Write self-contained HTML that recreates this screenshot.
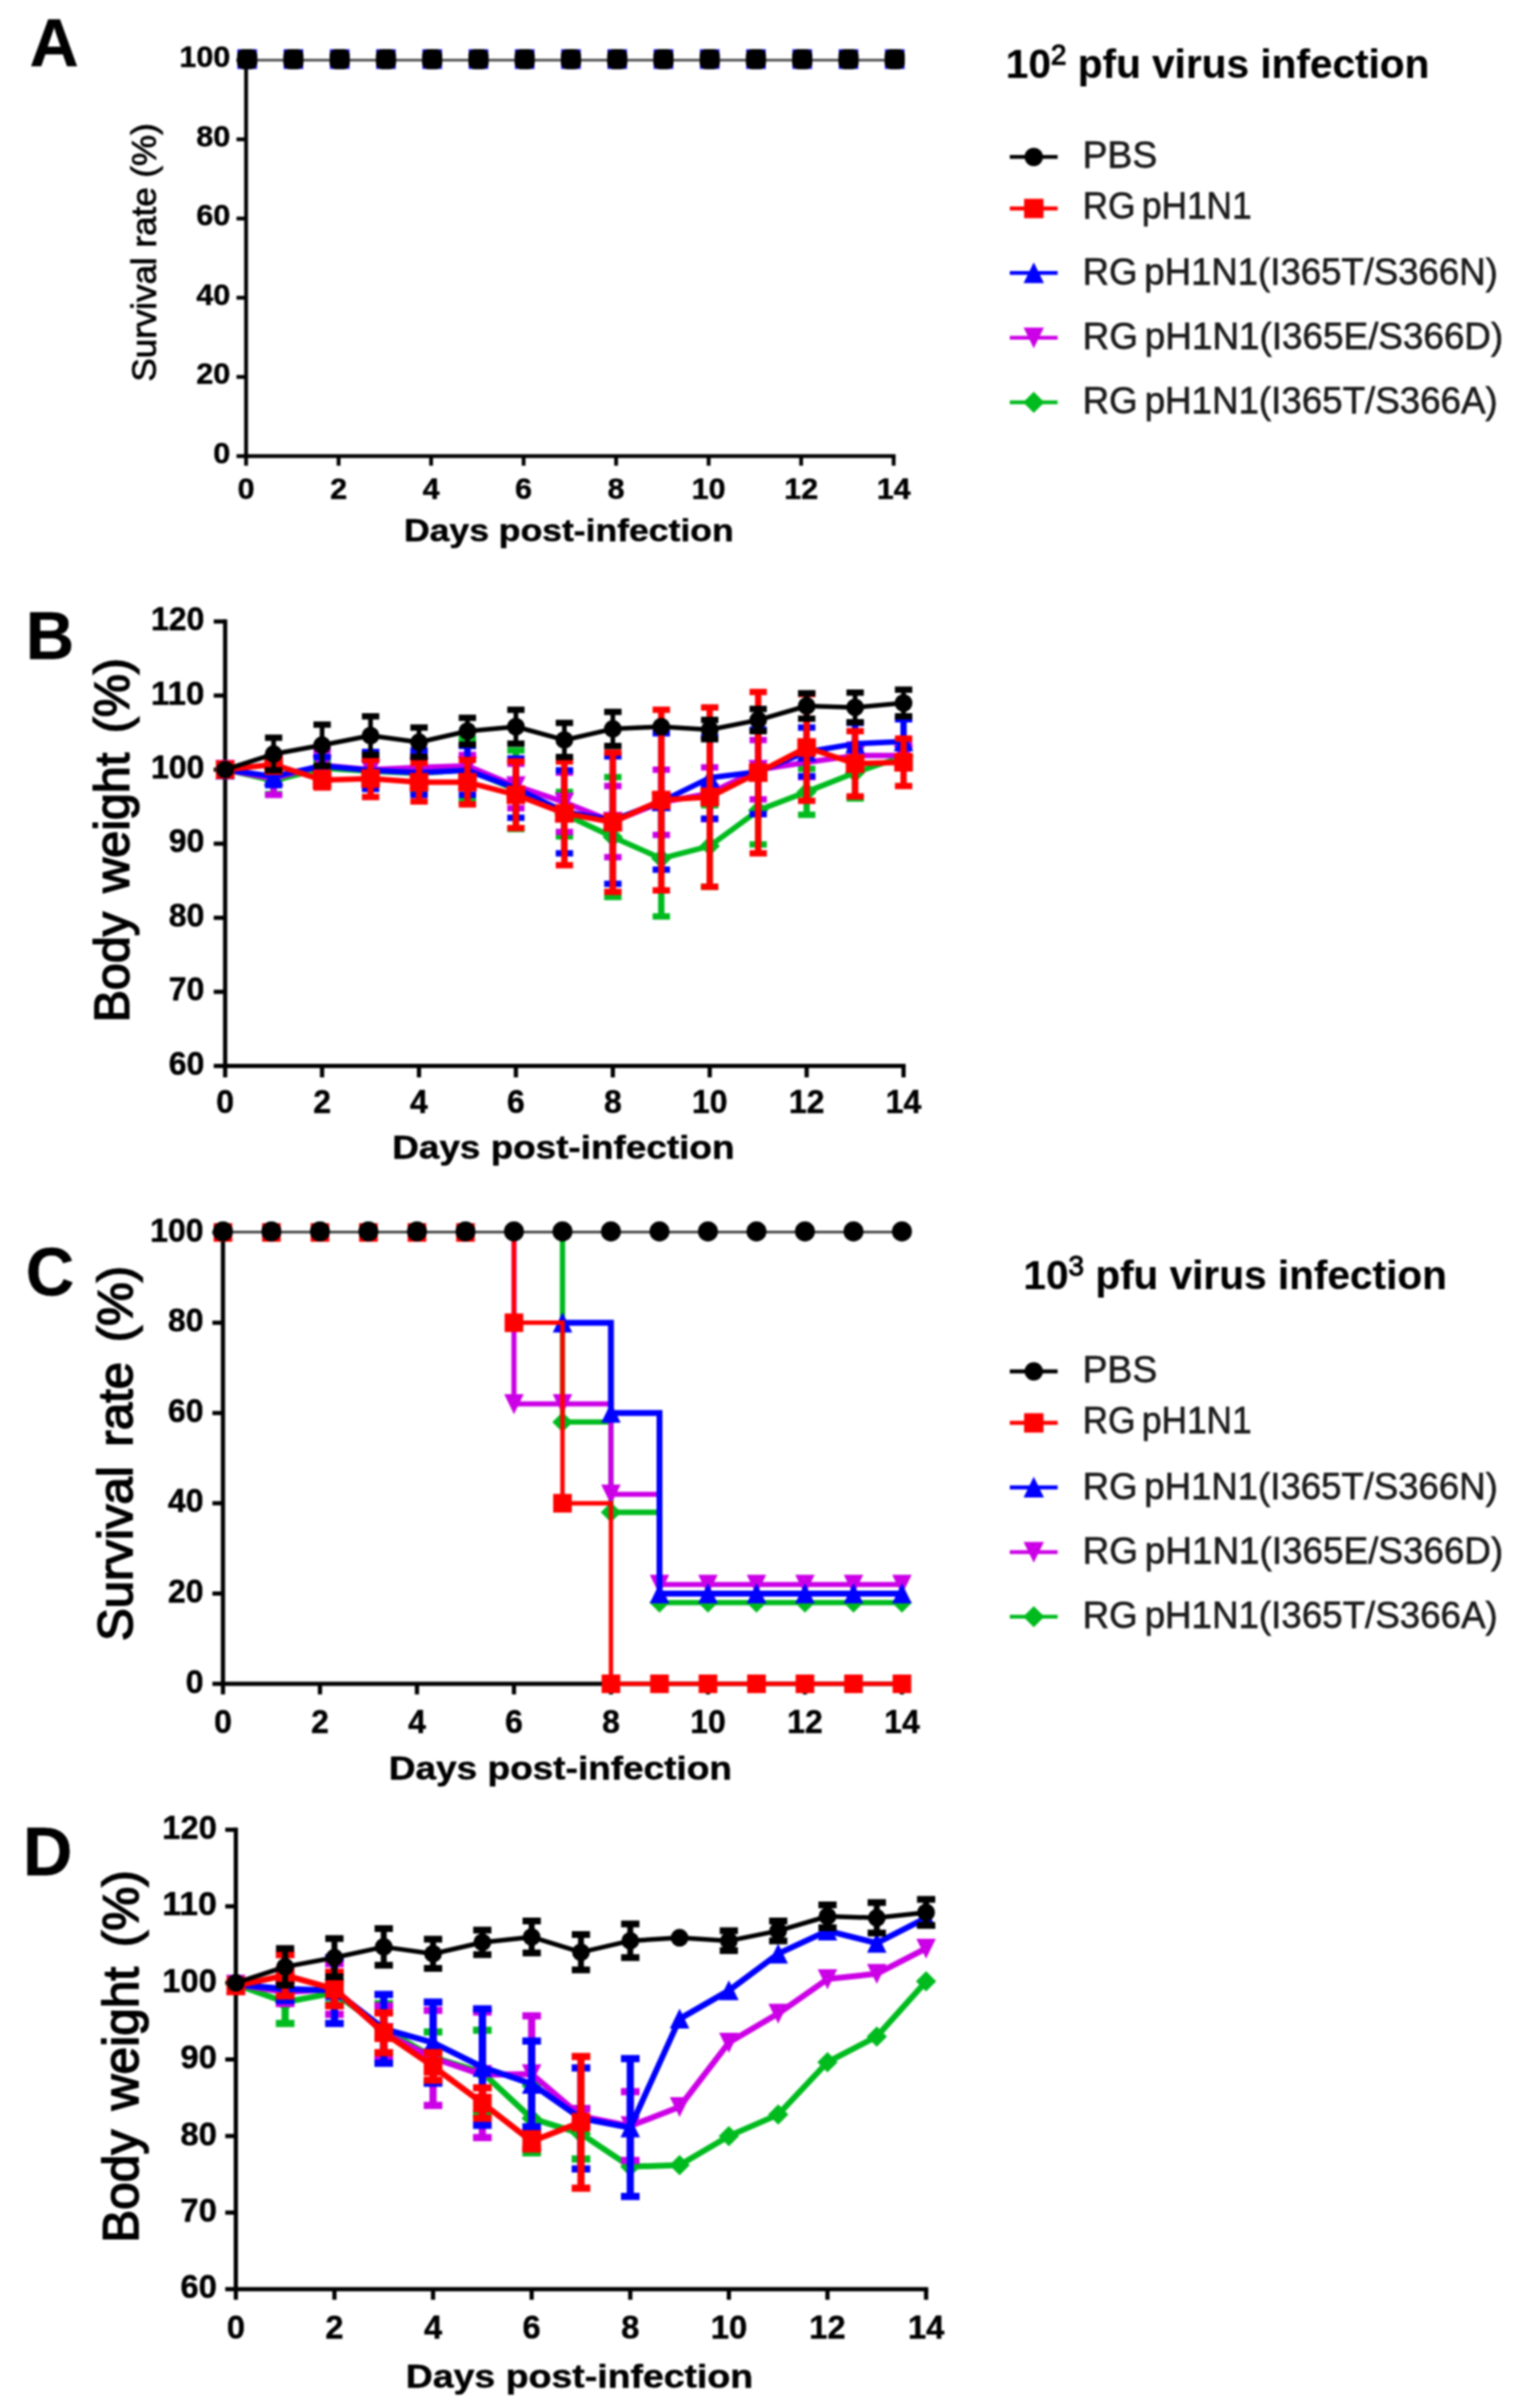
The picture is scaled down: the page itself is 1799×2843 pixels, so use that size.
<!DOCTYPE html>
<html lang="en"><head><meta charset="utf-8"><title>Figure</title>
<style>
html,body{margin:0;padding:0;background:#fff;}
body{width:1799px;height:2843px;overflow:hidden;}
svg{display:block;filter:blur(1.05px);}
</style></head><body>
<svg width="1799" height="2843" viewBox="0 0 1799 2843" font-family='"Liberation Sans", sans-serif'>
<rect width="1799" height="2843" fill="#fff"/>
<g id="fig">
<g id="panelA">
<text x="35.0" y="78.0" font-size="80" stroke="#000" stroke-width="0.5" font-weight="bold">A</text>
<path d="M290.5,68.8 V538.5 H1057.2" fill="none" stroke="#000" stroke-width="4.5" stroke-linejoin="miter"/>
<path d="M279.2,538.5 H290.5" stroke="#000" stroke-width="4.5"/>
<text x="271.8" y="546.9" font-size="34.5" stroke="#000" stroke-width="0.5" font-weight="bold" text-anchor="end" textLength="20.0" lengthAdjust="spacingAndGlyphs">0</text>
<path d="M279.2,445.0 H290.5" stroke="#000" stroke-width="4.5"/>
<text x="271.8" y="453.4" font-size="34.5" stroke="#000" stroke-width="0.5" font-weight="bold" text-anchor="end" textLength="40.0" lengthAdjust="spacingAndGlyphs">20</text>
<path d="M279.2,351.5 H290.5" stroke="#000" stroke-width="4.5"/>
<text x="271.8" y="359.9" font-size="34.5" stroke="#000" stroke-width="0.5" font-weight="bold" text-anchor="end" textLength="40.0" lengthAdjust="spacingAndGlyphs">40</text>
<path d="M279.2,258.0 H290.5" stroke="#000" stroke-width="4.5"/>
<text x="271.8" y="266.4" font-size="34.5" stroke="#000" stroke-width="0.5" font-weight="bold" text-anchor="end" textLength="40.0" lengthAdjust="spacingAndGlyphs">60</text>
<path d="M279.2,164.5 H290.5" stroke="#000" stroke-width="4.5"/>
<text x="271.8" y="172.9" font-size="34.5" stroke="#000" stroke-width="0.5" font-weight="bold" text-anchor="end" textLength="40.0" lengthAdjust="spacingAndGlyphs">80</text>
<path d="M279.2,71.0 H290.5" stroke="#000" stroke-width="4.5"/>
<text x="271.8" y="79.4" font-size="34.5" stroke="#000" stroke-width="0.5" font-weight="bold" text-anchor="end" textLength="60.0" lengthAdjust="spacingAndGlyphs">100</text>
<path d="M290.5,538.5 V549.8" stroke="#000" stroke-width="4.5"/>
<text x="290.5" y="588.5" font-size="34.5" stroke="#000" stroke-width="0.5" font-weight="bold" text-anchor="middle" textLength="20.0" lengthAdjust="spacingAndGlyphs">0</text>
<path d="M399.7,538.5 V549.8" stroke="#000" stroke-width="4.5"/>
<text x="399.7" y="588.5" font-size="34.5" stroke="#000" stroke-width="0.5" font-weight="bold" text-anchor="middle" textLength="20.0" lengthAdjust="spacingAndGlyphs">2</text>
<path d="M508.9,538.5 V549.8" stroke="#000" stroke-width="4.5"/>
<text x="508.9" y="588.5" font-size="34.5" stroke="#000" stroke-width="0.5" font-weight="bold" text-anchor="middle" textLength="20.0" lengthAdjust="spacingAndGlyphs">4</text>
<path d="M618.1,538.5 V549.8" stroke="#000" stroke-width="4.5"/>
<text x="618.1" y="588.5" font-size="34.5" stroke="#000" stroke-width="0.5" font-weight="bold" text-anchor="middle" textLength="20.0" lengthAdjust="spacingAndGlyphs">6</text>
<path d="M727.3,538.5 V549.8" stroke="#000" stroke-width="4.5"/>
<text x="727.3" y="588.5" font-size="34.5" stroke="#000" stroke-width="0.5" font-weight="bold" text-anchor="middle" textLength="20.0" lengthAdjust="spacingAndGlyphs">8</text>
<path d="M836.5,538.5 V549.8" stroke="#000" stroke-width="4.5"/>
<text x="836.5" y="588.5" font-size="34.5" stroke="#000" stroke-width="0.5" font-weight="bold" text-anchor="middle" textLength="40.0" lengthAdjust="spacingAndGlyphs">10</text>
<path d="M945.7,538.5 V549.8" stroke="#000" stroke-width="4.5"/>
<text x="945.7" y="588.5" font-size="34.5" stroke="#000" stroke-width="0.5" font-weight="bold" text-anchor="middle" textLength="40.0" lengthAdjust="spacingAndGlyphs">12</text>
<path d="M1054.9,538.5 V549.8" stroke="#000" stroke-width="4.5"/>
<text x="1054.9" y="588.5" font-size="34.5" stroke="#000" stroke-width="0.5" font-weight="bold" text-anchor="middle" textLength="40.0" lengthAdjust="spacingAndGlyphs">14</text>
<text x="183.5" y="298.0" font-size="41" stroke="#000" stroke-width="0.9" text-anchor="middle" textLength="305.0" lengthAdjust="spacingAndGlyphs" transform="rotate(-90 183.5 298.0)">Survival rate (%)</text>
<text x="671.5" y="638.5" font-size="36" stroke="#000" stroke-width="0.5" font-weight="bold" text-anchor="middle" textLength="389.0" lengthAdjust="spacingAndGlyphs">Days post-infection</text>
<path d="M290.5,71 H1054.9" stroke="#4a4a4a" stroke-width="3.2"/>
<rect x="280.2" y="58.2" width="23.2" height="23.2" fill="#1a10ee"/>
<rect x="279.9" y="57.9" width="23.8" height="23.8" rx="7.5" fill="#000"/>
<rect x="334.8" y="58.2" width="23.2" height="23.2" fill="#1a10ee"/>
<rect x="334.5" y="57.9" width="23.8" height="23.8" rx="7.5" fill="#000"/>
<rect x="389.4" y="58.2" width="23.2" height="23.2" fill="#1a10ee"/>
<rect x="389.1" y="57.9" width="23.8" height="23.8" rx="7.5" fill="#000"/>
<rect x="444.0" y="58.2" width="23.2" height="23.2" fill="#1a10ee"/>
<rect x="443.7" y="57.9" width="23.8" height="23.8" rx="7.5" fill="#000"/>
<rect x="498.6" y="58.2" width="23.2" height="23.2" fill="#1a10ee"/>
<rect x="498.3" y="57.9" width="23.8" height="23.8" rx="7.5" fill="#000"/>
<rect x="553.2" y="58.2" width="23.2" height="23.2" fill="#1a10ee"/>
<rect x="552.9" y="57.9" width="23.8" height="23.8" rx="7.5" fill="#000"/>
<rect x="607.8" y="58.2" width="23.2" height="23.2" fill="#1a10ee"/>
<rect x="607.5" y="57.9" width="23.8" height="23.8" rx="7.5" fill="#000"/>
<rect x="662.4" y="58.2" width="23.2" height="23.2" fill="#1a10ee"/>
<rect x="662.1" y="57.9" width="23.8" height="23.8" rx="7.5" fill="#000"/>
<rect x="717.0" y="58.2" width="23.2" height="23.2" fill="#1a10ee"/>
<rect x="716.7" y="57.9" width="23.8" height="23.8" rx="7.5" fill="#000"/>
<rect x="771.6" y="58.2" width="23.2" height="23.2" fill="#1a10ee"/>
<rect x="771.3" y="57.9" width="23.8" height="23.8" rx="7.5" fill="#000"/>
<rect x="826.2" y="58.2" width="23.2" height="23.2" fill="#1a10ee"/>
<rect x="825.9" y="57.9" width="23.8" height="23.8" rx="7.5" fill="#000"/>
<rect x="880.8" y="58.2" width="23.2" height="23.2" fill="#1a10ee"/>
<rect x="880.5" y="57.9" width="23.8" height="23.8" rx="7.5" fill="#000"/>
<rect x="935.4" y="58.2" width="23.2" height="23.2" fill="#1a10ee"/>
<rect x="935.1" y="57.9" width="23.8" height="23.8" rx="7.5" fill="#000"/>
<rect x="990.0" y="58.2" width="23.2" height="23.2" fill="#1a10ee"/>
<rect x="989.7" y="57.9" width="23.8" height="23.8" rx="7.5" fill="#000"/>
<rect x="1044.6" y="58.2" width="23.2" height="23.2" fill="#1a10ee"/>
<rect x="1044.3" y="57.9" width="23.8" height="23.8" rx="7.5" fill="#000"/>
</g>
<text x="1187.3" y="92.2" font-size="48" font-weight="bold" stroke="#000" stroke-width="0.2" textLength="500" lengthAdjust="spacingAndGlyphs">10<tspan font-size="33" font-weight="normal" stroke-width="1.3" dy="-15.8">2</tspan><tspan dy="15.8"> pfu virus infection</tspan></text>
<path d="M1192,185.3 H1248.5" stroke="#000000" stroke-width="4.6"/>
<circle cx="1220.3" cy="185.3" r="10.9" fill="#000000"/>
<text x="1278.0" y="198.2" font-size="44" stroke="#1c1c1c" stroke-width="0.75" fill="#1c1c1c" word-spacing="-4">PBS</text>
<path d="M1192,246.1 H1248.5" stroke="#ff0000" stroke-width="4.6"/>
<rect x="1208.9" y="234.7" width="22.9" height="22.9" fill="#ff0000"/>
<text x="1278.0" y="258.3" font-size="44" stroke="#1c1c1c" stroke-width="0.75" textLength="199.5" lengthAdjust="spacingAndGlyphs" fill="#1c1c1c" word-spacing="-4">RG pH1N1</text>
<path d="M1192,322.3 H1248.5" stroke="#0000ff" stroke-width="4.6"/>
<polygon points="1220.3,309.7 1232.3,334.3 1208.3,334.3" fill="#0000ff"/>
<text x="1278.0" y="335.7" font-size="44" stroke="#1c1c1c" stroke-width="0.75" textLength="490.0" lengthAdjust="spacingAndGlyphs" fill="#1c1c1c" word-spacing="-4">RG pH1N1(I365T/S366N)</text>
<path d="M1192,398.7 H1248.5" stroke="#cc00e6" stroke-width="4.6"/>
<polygon points="1220.3,411.3 1232.3,386.7 1208.3,386.7" fill="#cc00e6"/>
<text x="1278.0" y="412.0" font-size="44" stroke="#1c1c1c" stroke-width="0.75" textLength="496.5" lengthAdjust="spacingAndGlyphs" fill="#1c1c1c" word-spacing="-4">RG pH1N1(I365E/S366D)</text>
<path d="M1192,475.0 H1248.5" stroke="#00bb1e" stroke-width="4.6"/>
<polygon points="1220.3,462.5 1232.8,475.0 1220.3,487.5 1207.8,475.0" fill="#00bb1e"/>
<text x="1278.0" y="487.8" font-size="44" stroke="#1c1c1c" stroke-width="0.75" textLength="490.0" lengthAdjust="spacingAndGlyphs" fill="#1c1c1c" word-spacing="-4">RG pH1N1(I365T/S366A)</text>
<g id="panelB">
<text x="30.5" y="777.7" font-size="79" stroke="#000" stroke-width="0.5" font-weight="bold">B</text>
<path d="M265.8,731.3 V1258.5 H1069.1" fill="none" stroke="#000" stroke-width="5" stroke-linejoin="miter"/>
<path d="M252.3,1258.5 H265.8" stroke="#000" stroke-width="5"/>
<text x="241.3" y="1268.8" font-size="38.5" stroke="#000" stroke-width="0.5" font-weight="bold" text-anchor="end" textLength="42.0" lengthAdjust="spacingAndGlyphs">60</text>
<path d="M252.3,1171.0 H265.8" stroke="#000" stroke-width="5"/>
<text x="241.3" y="1181.3" font-size="38.5" stroke="#000" stroke-width="0.5" font-weight="bold" text-anchor="end" textLength="42.0" lengthAdjust="spacingAndGlyphs">70</text>
<path d="M252.3,1083.6 H265.8" stroke="#000" stroke-width="5"/>
<text x="241.3" y="1093.9" font-size="38.5" stroke="#000" stroke-width="0.5" font-weight="bold" text-anchor="end" textLength="42.0" lengthAdjust="spacingAndGlyphs">80</text>
<path d="M252.3,996.1 H265.8" stroke="#000" stroke-width="5"/>
<text x="241.3" y="1006.4" font-size="38.5" stroke="#000" stroke-width="0.5" font-weight="bold" text-anchor="end" textLength="42.0" lengthAdjust="spacingAndGlyphs">90</text>
<path d="M252.3,908.7 H265.8" stroke="#000" stroke-width="5"/>
<text x="241.3" y="919.0" font-size="38.5" stroke="#000" stroke-width="0.5" font-weight="bold" text-anchor="end" textLength="63.0" lengthAdjust="spacingAndGlyphs">100</text>
<path d="M252.3,821.2 H265.8" stroke="#000" stroke-width="5"/>
<text x="241.3" y="831.5" font-size="38.5" stroke="#000" stroke-width="0.5" font-weight="bold" text-anchor="end" textLength="63.0" lengthAdjust="spacingAndGlyphs">110</text>
<path d="M252.3,733.8 H265.8" stroke="#000" stroke-width="5"/>
<text x="241.3" y="744.1" font-size="38.5" stroke="#000" stroke-width="0.5" font-weight="bold" text-anchor="end" textLength="63.0" lengthAdjust="spacingAndGlyphs">120</text>
<path d="M265.8,1258.5 V1272.0" stroke="#000" stroke-width="5"/>
<text x="265.8" y="1314.0" font-size="38.5" stroke="#000" stroke-width="0.5" font-weight="bold" text-anchor="middle" textLength="21.0" lengthAdjust="spacingAndGlyphs">0</text>
<path d="M380.2,1258.5 V1272.0" stroke="#000" stroke-width="5"/>
<text x="380.2" y="1314.0" font-size="38.5" stroke="#000" stroke-width="0.5" font-weight="bold" text-anchor="middle" textLength="21.0" lengthAdjust="spacingAndGlyphs">2</text>
<path d="M494.6,1258.5 V1272.0" stroke="#000" stroke-width="5"/>
<text x="494.6" y="1314.0" font-size="38.5" stroke="#000" stroke-width="0.5" font-weight="bold" text-anchor="middle" textLength="21.0" lengthAdjust="spacingAndGlyphs">4</text>
<path d="M609.0,1258.5 V1272.0" stroke="#000" stroke-width="5"/>
<text x="609.0" y="1314.0" font-size="38.5" stroke="#000" stroke-width="0.5" font-weight="bold" text-anchor="middle" textLength="21.0" lengthAdjust="spacingAndGlyphs">6</text>
<path d="M723.4,1258.5 V1272.0" stroke="#000" stroke-width="5"/>
<text x="723.4" y="1314.0" font-size="38.5" stroke="#000" stroke-width="0.5" font-weight="bold" text-anchor="middle" textLength="21.0" lengthAdjust="spacingAndGlyphs">8</text>
<path d="M837.8,1258.5 V1272.0" stroke="#000" stroke-width="5"/>
<text x="837.8" y="1314.0" font-size="38.5" stroke="#000" stroke-width="0.5" font-weight="bold" text-anchor="middle" textLength="42.0" lengthAdjust="spacingAndGlyphs">10</text>
<path d="M952.2,1258.5 V1272.0" stroke="#000" stroke-width="5"/>
<text x="952.2" y="1314.0" font-size="38.5" stroke="#000" stroke-width="0.5" font-weight="bold" text-anchor="middle" textLength="42.0" lengthAdjust="spacingAndGlyphs">12</text>
<path d="M1066.6,1258.5 V1272.0" stroke="#000" stroke-width="5"/>
<text x="1066.6" y="1314.0" font-size="38.5" stroke="#000" stroke-width="0.5" font-weight="bold" text-anchor="middle" textLength="42.0" lengthAdjust="spacingAndGlyphs">14</text>
<text x="152.2" y="992.0" font-size="57" stroke="#000" stroke-width="1.8" text-anchor="middle" textLength="430.0" lengthAdjust="spacingAndGlyphs" transform="rotate(-90 152.2 992.0)" word-spacing="7">Body weight (%)</text>
<text x="665.0" y="1368.0" font-size="38" stroke="#000" stroke-width="0.5" font-weight="bold" text-anchor="middle" textLength="404.0" lengthAdjust="spacingAndGlyphs">Days post-infection</text>
<path d="M323.0,906.1 V937.6" stroke="#00bb1e" stroke-width="7.5"/>
<path d="M312.8,906.1 H333.2 M312.8,937.6 H333.2" stroke="#00bb1e" stroke-width="7.5"/>
<path d="M380.2,898.2 V915.7" stroke="#00bb1e" stroke-width="7.5"/>
<path d="M370.0,898.2 H390.5 M370.0,915.7 H390.5" stroke="#00bb1e" stroke-width="7.5"/>
<path d="M437.4,897.3 V923.6" stroke="#00bb1e" stroke-width="7.5"/>
<path d="M427.2,897.3 H447.7 M427.2,923.6 H447.7" stroke="#00bb1e" stroke-width="7.5"/>
<path d="M494.6,891.2 V934.9" stroke="#00bb1e" stroke-width="7.5"/>
<path d="M484.4,891.2 H504.9 M484.4,934.9 H504.9" stroke="#00bb1e" stroke-width="7.5"/>
<path d="M551.8,872.0 V945.4" stroke="#00bb1e" stroke-width="7.5"/>
<path d="M541.5,872.0 H562.0 M541.5,945.4 H562.0" stroke="#00bb1e" stroke-width="7.5"/>
<path d="M609.0,886.0 V978.7" stroke="#00bb1e" stroke-width="7.5"/>
<path d="M598.8,886.0 H619.2 M598.8,978.7 H619.2" stroke="#00bb1e" stroke-width="7.5"/>
<path d="M666.2,934.9 V987.4" stroke="#00bb1e" stroke-width="7.5"/>
<path d="M656.0,934.9 H676.5 M656.0,987.4 H676.5" stroke="#00bb1e" stroke-width="7.5"/>
<path d="M723.4,917.4 V1059.1" stroke="#00bb1e" stroke-width="7.5"/>
<path d="M713.2,917.4 H733.7 M713.2,1059.1 H733.7" stroke="#00bb1e" stroke-width="7.5"/>
<path d="M780.6,945.4 V1081.9" stroke="#00bb1e" stroke-width="7.5"/>
<path d="M770.4,945.4 H790.9 M770.4,1081.9 H790.9" stroke="#00bb1e" stroke-width="7.5"/>
<path d="M837.8,950.7 V1046.9" stroke="#00bb1e" stroke-width="7.5"/>
<path d="M827.5,950.7 H848.0 M827.5,1046.9 H848.0" stroke="#00bb1e" stroke-width="7.5"/>
<path d="M895.0,916.6 V997.0" stroke="#00bb1e" stroke-width="7.5"/>
<path d="M884.8,916.6 H905.2 M884.8,997.0 H905.2" stroke="#00bb1e" stroke-width="7.5"/>
<path d="M952.2,907.8 V962.0" stroke="#00bb1e" stroke-width="7.5"/>
<path d="M942.0,907.8 H962.5 M942.0,962.0 H962.5" stroke="#00bb1e" stroke-width="7.5"/>
<path d="M1009.4,881.6 V942.8" stroke="#00bb1e" stroke-width="7.5"/>
<path d="M999.2,881.6 H1019.7 M999.2,942.8 H1019.7" stroke="#00bb1e" stroke-width="7.5"/>
<path d="M1066.6,879.8 V906.1" stroke="#00bb1e" stroke-width="7.5"/>
<path d="M1056.4,879.8 H1076.9 M1056.4,906.1 H1076.9" stroke="#00bb1e" stroke-width="7.5"/>
<polyline points="265.8,908.7 323.0,921.8 380.2,907.0 437.4,910.4 494.6,913.1 551.8,908.7 609.0,932.3 666.2,961.2 723.4,988.3 780.6,1013.6 837.8,998.8 895.0,956.8 952.2,934.9 1009.4,912.2 1066.6,893.0" fill="none" stroke="#00bb1e" stroke-width="6.5" stroke-linejoin="round"/>
<polygon points="265.8,896.7 277.8,908.7 265.8,920.7 253.8,908.7" fill="#00bb1e"/>
<polygon points="323.0,909.8 335.0,921.8 323.0,933.8 311.0,921.8" fill="#00bb1e"/>
<polygon points="380.2,895.0 392.2,907.0 380.2,919.0 368.2,907.0" fill="#00bb1e"/>
<polygon points="437.4,898.4 449.4,910.4 437.4,922.4 425.4,910.4" fill="#00bb1e"/>
<polygon points="494.6,901.1 506.6,913.1 494.6,925.1 482.6,913.1" fill="#00bb1e"/>
<polygon points="551.8,896.7 563.8,908.7 551.8,920.7 539.8,908.7" fill="#00bb1e"/>
<polygon points="609.0,920.3 621.0,932.3 609.0,944.3 597.0,932.3" fill="#00bb1e"/>
<polygon points="666.2,949.2 678.2,961.2 666.2,973.2 654.2,961.2" fill="#00bb1e"/>
<polygon points="723.4,976.3 735.4,988.3 723.4,1000.3 711.4,988.3" fill="#00bb1e"/>
<polygon points="780.6,1001.6 792.6,1013.6 780.6,1025.6 768.6,1013.6" fill="#00bb1e"/>
<polygon points="837.8,986.8 849.8,998.8 837.8,1010.8 825.8,998.8" fill="#00bb1e"/>
<polygon points="895.0,944.8 907.0,956.8 895.0,968.8 883.0,956.8" fill="#00bb1e"/>
<polygon points="952.2,922.9 964.2,934.9 952.2,946.9 940.2,934.9" fill="#00bb1e"/>
<polygon points="1009.4,900.2 1021.4,912.2 1009.4,924.2 997.4,912.2" fill="#00bb1e"/>
<polygon points="1066.6,881.0 1078.6,893.0 1066.6,905.0 1054.6,893.0" fill="#00bb1e"/>
<path d="M323.0,900.0 V938.4" stroke="#cc00e6" stroke-width="7.5"/>
<path d="M312.8,900.0 H333.2 M312.8,938.4 H333.2" stroke="#cc00e6" stroke-width="7.5"/>
<path d="M380.2,886.0 V920.9" stroke="#cc00e6" stroke-width="7.5"/>
<path d="M370.0,886.0 H390.5 M370.0,920.9 H390.5" stroke="#cc00e6" stroke-width="7.5"/>
<path d="M437.4,895.6 V921.8" stroke="#cc00e6" stroke-width="7.5"/>
<path d="M427.2,895.6 H447.7 M427.2,921.8 H447.7" stroke="#cc00e6" stroke-width="7.5"/>
<path d="M494.6,893.0 V919.2" stroke="#cc00e6" stroke-width="7.5"/>
<path d="M484.4,893.0 H504.9 M484.4,919.2 H504.9" stroke="#cc00e6" stroke-width="7.5"/>
<path d="M551.8,891.2 V917.4" stroke="#cc00e6" stroke-width="7.5"/>
<path d="M541.5,891.2 H562.0 M541.5,917.4 H562.0" stroke="#cc00e6" stroke-width="7.5"/>
<path d="M609.0,901.7 V954.2" stroke="#cc00e6" stroke-width="7.5"/>
<path d="M598.8,901.7 H619.2 M598.8,954.2 H619.2" stroke="#cc00e6" stroke-width="7.5"/>
<path d="M666.2,912.2 V982.2" stroke="#cc00e6" stroke-width="7.5"/>
<path d="M656.0,912.2 H676.5 M656.0,982.2 H676.5" stroke="#cc00e6" stroke-width="7.5"/>
<path d="M723.4,927.9 V1011.9" stroke="#cc00e6" stroke-width="7.5"/>
<path d="M713.2,927.9 H733.7 M713.2,1011.9 H733.7" stroke="#cc00e6" stroke-width="7.5"/>
<path d="M780.6,908.7 V985.7" stroke="#cc00e6" stroke-width="7.5"/>
<path d="M770.4,908.7 H790.9 M770.4,985.7 H790.9" stroke="#cc00e6" stroke-width="7.5"/>
<path d="M837.8,906.1 V967.3" stroke="#cc00e6" stroke-width="7.5"/>
<path d="M827.5,906.1 H848.0 M827.5,967.3 H848.0" stroke="#cc00e6" stroke-width="7.5"/>
<path d="M895.0,873.7 V943.7" stroke="#cc00e6" stroke-width="7.5"/>
<path d="M884.8,873.7 H905.2 M884.8,943.7 H905.2" stroke="#cc00e6" stroke-width="7.5"/>
<path d="M952.2,882.5 V917.4" stroke="#cc00e6" stroke-width="7.5"/>
<path d="M942.0,882.5 H962.5 M942.0,917.4 H962.5" stroke="#cc00e6" stroke-width="7.5"/>
<path d="M1009.4,879.0 V905.2" stroke="#cc00e6" stroke-width="7.5"/>
<path d="M999.2,879.0 H1019.7 M999.2,905.2 H1019.7" stroke="#cc00e6" stroke-width="7.5"/>
<path d="M1066.6,879.0 V905.2" stroke="#cc00e6" stroke-width="7.5"/>
<path d="M1056.4,879.0 H1076.9 M1056.4,905.2 H1076.9" stroke="#cc00e6" stroke-width="7.5"/>
<polyline points="265.8,908.7 323.0,919.2 380.2,903.5 437.4,908.7 494.6,906.1 551.8,904.3 609.0,927.9 666.2,947.2 723.4,969.9 780.6,947.2 837.8,936.7 895.0,908.7 952.2,900.0 1009.4,892.1 1066.6,892.1" fill="none" stroke="#cc00e6" stroke-width="6.5" stroke-linejoin="round"/>
<polygon points="265.8,920.8 277.3,897.2 254.3,897.2" fill="#cc00e6"/>
<polygon points="323.0,931.3 334.5,907.7 311.5,907.7" fill="#cc00e6"/>
<polygon points="380.2,915.5 391.7,892.0 368.7,892.0" fill="#cc00e6"/>
<polygon points="437.4,920.8 448.9,897.2 425.9,897.2" fill="#cc00e6"/>
<polygon points="494.6,918.2 506.1,894.6 483.1,894.6" fill="#cc00e6"/>
<polygon points="551.8,916.4 563.3,892.8 540.3,892.8" fill="#cc00e6"/>
<polygon points="609.0,940.0 620.5,916.4 597.5,916.4" fill="#cc00e6"/>
<polygon points="666.2,959.3 677.7,935.7 654.7,935.7" fill="#cc00e6"/>
<polygon points="723.4,982.0 734.9,958.4 711.9,958.4" fill="#cc00e6"/>
<polygon points="780.6,959.3 792.1,935.7 769.1,935.7" fill="#cc00e6"/>
<polygon points="837.8,948.8 849.3,925.2 826.3,925.2" fill="#cc00e6"/>
<polygon points="895.0,920.8 906.5,897.2 883.5,897.2" fill="#cc00e6"/>
<polygon points="952.2,912.0 963.7,888.5 940.7,888.5" fill="#cc00e6"/>
<polygon points="1009.4,904.2 1020.9,880.6 997.9,880.6" fill="#cc00e6"/>
<polygon points="1066.6,904.2 1078.1,880.6 1055.1,880.6" fill="#cc00e6"/>
<path d="M323.0,906.1 V927.1" stroke="#0000ff" stroke-width="7.5"/>
<path d="M312.8,906.1 H333.2 M312.8,927.1 H333.2" stroke="#0000ff" stroke-width="7.5"/>
<path d="M380.2,893.8 V914.8" stroke="#0000ff" stroke-width="7.5"/>
<path d="M370.0,893.8 H390.5 M370.0,914.8 H390.5" stroke="#0000ff" stroke-width="7.5"/>
<path d="M437.4,887.7 V931.4" stroke="#0000ff" stroke-width="7.5"/>
<path d="M427.2,887.7 H447.7 M427.2,931.4 H447.7" stroke="#0000ff" stroke-width="7.5"/>
<path d="M494.6,886.0 V938.4" stroke="#0000ff" stroke-width="7.5"/>
<path d="M484.4,886.0 H504.9 M484.4,938.4 H504.9" stroke="#0000ff" stroke-width="7.5"/>
<path d="M551.8,880.7 V938.4" stroke="#0000ff" stroke-width="7.5"/>
<path d="M541.5,880.7 H562.0 M541.5,938.4 H562.0" stroke="#0000ff" stroke-width="7.5"/>
<path d="M609.0,895.6 V965.5" stroke="#0000ff" stroke-width="7.5"/>
<path d="M598.8,895.6 H619.2 M598.8,965.5 H619.2" stroke="#0000ff" stroke-width="7.5"/>
<path d="M666.2,909.6 V1007.5" stroke="#0000ff" stroke-width="7.5"/>
<path d="M656.0,909.6 H676.5 M656.0,1007.5 H676.5" stroke="#0000ff" stroke-width="7.5"/>
<path d="M723.4,893.0 V1043.4" stroke="#0000ff" stroke-width="7.5"/>
<path d="M713.2,893.0 H733.7 M713.2,1043.4 H733.7" stroke="#0000ff" stroke-width="7.5"/>
<path d="M780.6,865.8 V1026.8" stroke="#0000ff" stroke-width="7.5"/>
<path d="M770.4,865.8 H790.9 M770.4,1026.8 H790.9" stroke="#0000ff" stroke-width="7.5"/>
<path d="M837.8,870.2 V966.4" stroke="#0000ff" stroke-width="7.5"/>
<path d="M827.5,870.2 H848.0 M827.5,966.4 H848.0" stroke="#0000ff" stroke-width="7.5"/>
<path d="M895.0,861.5 V961.2" stroke="#0000ff" stroke-width="7.5"/>
<path d="M884.8,861.5 H905.2 M884.8,961.2 H905.2" stroke="#0000ff" stroke-width="7.5"/>
<path d="M952.2,858.9 V916.6" stroke="#0000ff" stroke-width="7.5"/>
<path d="M942.0,858.9 H962.5 M942.0,916.6 H962.5" stroke="#0000ff" stroke-width="7.5"/>
<path d="M1009.4,853.6 V902.6" stroke="#0000ff" stroke-width="7.5"/>
<path d="M999.2,853.6 H1019.7 M999.2,902.6 H1019.7" stroke="#0000ff" stroke-width="7.5"/>
<path d="M1066.6,849.2 V901.7" stroke="#0000ff" stroke-width="7.5"/>
<path d="M1056.4,849.2 H1076.9 M1056.4,901.7 H1076.9" stroke="#0000ff" stroke-width="7.5"/>
<polyline points="265.8,908.7 323.0,916.6 380.2,904.3 437.4,909.6 494.6,912.2 551.8,909.6 609.0,930.6 666.2,958.5 723.4,968.2 780.6,946.3 837.8,918.3 895.0,911.3 952.2,887.7 1009.4,878.1 1066.6,875.5" fill="none" stroke="#0000ff" stroke-width="6.5" stroke-linejoin="round"/>
<polygon points="265.8,896.6 277.3,920.2 254.3,920.2" fill="#0000ff"/>
<polygon points="323.0,904.5 334.5,928.1 311.5,928.1" fill="#0000ff"/>
<polygon points="380.2,892.3 391.7,915.8 368.7,915.8" fill="#0000ff"/>
<polygon points="437.4,897.5 448.9,921.1 425.9,921.1" fill="#0000ff"/>
<polygon points="494.6,900.1 506.1,923.7 483.1,923.7" fill="#0000ff"/>
<polygon points="551.8,897.5 563.3,921.1 540.3,921.1" fill="#0000ff"/>
<polygon points="609.0,918.5 620.5,942.1 597.5,942.1" fill="#0000ff"/>
<polygon points="666.2,946.5 677.7,970.0 654.7,970.0" fill="#0000ff"/>
<polygon points="723.4,956.1 734.9,979.7 711.9,979.7" fill="#0000ff"/>
<polygon points="780.6,934.2 792.1,957.8 769.1,957.8" fill="#0000ff"/>
<polygon points="837.8,906.2 849.3,929.8 826.3,929.8" fill="#0000ff"/>
<polygon points="895.0,899.2 906.5,922.8 883.5,922.8" fill="#0000ff"/>
<polygon points="952.2,875.6 963.7,899.2 940.7,899.2" fill="#0000ff"/>
<polygon points="1009.4,866.0 1020.9,889.6 997.9,889.6" fill="#0000ff"/>
<polygon points="1066.6,863.4 1078.1,887.0 1055.1,887.0" fill="#0000ff"/>
<path d="M323.0,893.8 V911.3" stroke="#ff0000" stroke-width="7.5"/>
<path d="M312.8,893.8 H333.2 M312.8,911.3 H333.2" stroke="#ff0000" stroke-width="7.5"/>
<path d="M380.2,912.2 V929.7" stroke="#ff0000" stroke-width="7.5"/>
<path d="M370.0,912.2 H390.5 M370.0,929.7 H390.5" stroke="#ff0000" stroke-width="7.5"/>
<path d="M437.4,897.3 V941.1" stroke="#ff0000" stroke-width="7.5"/>
<path d="M427.2,897.3 H447.7 M427.2,941.1 H447.7" stroke="#ff0000" stroke-width="7.5"/>
<path d="M494.6,900.8 V946.3" stroke="#ff0000" stroke-width="7.5"/>
<path d="M484.4,900.8 H504.9 M484.4,946.3 H504.9" stroke="#ff0000" stroke-width="7.5"/>
<path d="M551.8,897.3 V949.8" stroke="#ff0000" stroke-width="7.5"/>
<path d="M541.5,897.3 H562.0 M541.5,949.8 H562.0" stroke="#ff0000" stroke-width="7.5"/>
<path d="M609.0,899.1 V977.8" stroke="#ff0000" stroke-width="7.5"/>
<path d="M598.8,899.1 H619.2 M598.8,977.8 H619.2" stroke="#ff0000" stroke-width="7.5"/>
<path d="M666.2,899.1 V1021.5" stroke="#ff0000" stroke-width="7.5"/>
<path d="M656.0,899.1 H676.5 M656.0,1021.5 H676.5" stroke="#ff0000" stroke-width="7.5"/>
<path d="M723.4,888.6 V1053.0" stroke="#ff0000" stroke-width="7.5"/>
<path d="M713.2,888.6 H733.7 M713.2,1053.0 H733.7" stroke="#ff0000" stroke-width="7.5"/>
<path d="M780.6,837.9 V1051.2" stroke="#ff0000" stroke-width="7.5"/>
<path d="M770.4,837.9 H790.9 M770.4,1051.2 H790.9" stroke="#ff0000" stroke-width="7.5"/>
<path d="M837.8,835.2 V1046.9" stroke="#ff0000" stroke-width="7.5"/>
<path d="M827.5,835.2 H848.0 M827.5,1046.9 H848.0" stroke="#ff0000" stroke-width="7.5"/>
<path d="M895.0,816.9 V1007.5" stroke="#ff0000" stroke-width="7.5"/>
<path d="M884.8,816.9 H905.2 M884.8,1007.5 H905.2" stroke="#ff0000" stroke-width="7.5"/>
<path d="M952.2,819.5 V945.4" stroke="#ff0000" stroke-width="7.5"/>
<path d="M942.0,819.5 H962.5 M942.0,945.4 H962.5" stroke="#ff0000" stroke-width="7.5"/>
<path d="M1009.4,863.2 V940.2" stroke="#ff0000" stroke-width="7.5"/>
<path d="M999.2,863.2 H1019.7 M999.2,940.2 H1019.7" stroke="#ff0000" stroke-width="7.5"/>
<path d="M1066.6,872.0 V927.9" stroke="#ff0000" stroke-width="7.5"/>
<path d="M1056.4,872.0 H1076.9 M1056.4,927.9 H1076.9" stroke="#ff0000" stroke-width="7.5"/>
<polyline points="265.8,908.7 323.0,902.6 380.2,920.9 437.4,919.2 494.6,923.6 551.8,923.6 609.0,938.4 666.2,960.3 723.4,970.8 780.6,944.6 837.8,941.1 895.0,912.2 952.2,882.5 1009.4,901.7 1066.6,900.0" fill="none" stroke="#ff0000" stroke-width="6.5" stroke-linejoin="round"/>
<rect x="254.8" y="897.7" width="22.0" height="22.0" fill="#ff0000"/>
<rect x="312.0" y="891.6" width="22.0" height="22.0" fill="#ff0000"/>
<rect x="369.2" y="909.9" width="22.0" height="22.0" fill="#ff0000"/>
<rect x="426.4" y="908.2" width="22.0" height="22.0" fill="#ff0000"/>
<rect x="483.6" y="912.6" width="22.0" height="22.0" fill="#ff0000"/>
<rect x="540.8" y="912.6" width="22.0" height="22.0" fill="#ff0000"/>
<rect x="598.0" y="927.4" width="22.0" height="22.0" fill="#ff0000"/>
<rect x="655.2" y="949.3" width="22.0" height="22.0" fill="#ff0000"/>
<rect x="712.4" y="959.8" width="22.0" height="22.0" fill="#ff0000"/>
<rect x="769.6" y="933.6" width="22.0" height="22.0" fill="#ff0000"/>
<rect x="826.8" y="930.1" width="22.0" height="22.0" fill="#ff0000"/>
<rect x="884.0" y="901.2" width="22.0" height="22.0" fill="#ff0000"/>
<rect x="941.2" y="871.5" width="22.0" height="22.0" fill="#ff0000"/>
<rect x="998.4" y="890.7" width="22.0" height="22.0" fill="#ff0000"/>
<rect x="1055.6" y="889.0" width="22.0" height="22.0" fill="#ff0000"/>
<path d="M323.0,871.1 V909.6" stroke="#000000" stroke-width="5.5"/>
<path d="M312.8,871.1 H333.2 M312.8,909.6 H333.2" stroke="#000000" stroke-width="7.5"/>
<path d="M380.2,855.4 V904.3" stroke="#000000" stroke-width="5.5"/>
<path d="M370.0,855.4 H390.5 M370.0,904.3 H390.5" stroke="#000000" stroke-width="7.5"/>
<path d="M437.4,845.7 V891.2" stroke="#000000" stroke-width="5.5"/>
<path d="M427.2,845.7 H447.7 M427.2,891.2 H447.7" stroke="#000000" stroke-width="7.5"/>
<path d="M494.6,858.9 V893.8" stroke="#000000" stroke-width="5.5"/>
<path d="M484.4,858.9 H504.9 M484.4,893.8 H504.9" stroke="#000000" stroke-width="7.5"/>
<path d="M551.8,847.5 V879.0" stroke="#000000" stroke-width="5.5"/>
<path d="M541.5,847.5 H562.0 M541.5,879.0 H562.0" stroke="#000000" stroke-width="7.5"/>
<path d="M609.0,837.9 V878.1" stroke="#000000" stroke-width="5.5"/>
<path d="M598.8,837.9 H619.2 M598.8,878.1 H619.2" stroke="#000000" stroke-width="7.5"/>
<path d="M666.2,853.6 V893.8" stroke="#000000" stroke-width="5.5"/>
<path d="M656.0,853.6 H676.5 M656.0,893.8 H676.5" stroke="#000000" stroke-width="7.5"/>
<path d="M723.4,840.5 V880.7" stroke="#000000" stroke-width="5.5"/>
<path d="M713.2,840.5 H733.7 M713.2,880.7 H733.7" stroke="#000000" stroke-width="7.5"/>
<path d="M837.8,850.1 V872.8" stroke="#000000" stroke-width="5.5"/>
<path d="M827.5,850.1 H848.0 M827.5,872.8 H848.0" stroke="#000000" stroke-width="7.5"/>
<path d="M895.0,837.0 V863.2" stroke="#000000" stroke-width="5.5"/>
<path d="M884.8,837.0 H905.2 M884.8,863.2 H905.2" stroke="#000000" stroke-width="7.5"/>
<path d="M952.2,818.6 V848.4" stroke="#000000" stroke-width="5.5"/>
<path d="M942.0,818.6 H962.5 M942.0,848.4 H962.5" stroke="#000000" stroke-width="7.5"/>
<path d="M1009.4,817.8 V852.7" stroke="#000000" stroke-width="5.5"/>
<path d="M999.2,817.8 H1019.7 M999.2,852.7 H1019.7" stroke="#000000" stroke-width="7.5"/>
<path d="M1066.6,814.3 V845.7" stroke="#000000" stroke-width="5.5"/>
<path d="M1056.4,814.3 H1076.9 M1056.4,845.7 H1076.9" stroke="#000000" stroke-width="7.5"/>
<polyline points="265.8,908.7 323.0,890.3 380.2,879.8 437.4,868.5 494.6,876.3 551.8,863.2 609.0,858.0 666.2,873.7 723.4,860.6 780.6,858.0 837.8,861.5 895.0,850.1 952.2,833.5 1009.4,835.2 1066.6,830.0" fill="none" stroke="#000000" stroke-width="5.5" stroke-linejoin="round"/>
<circle cx="265.8" cy="908.7" r="10.5" fill="#000000"/>
<circle cx="323.0" cy="890.3" r="10.5" fill="#000000"/>
<circle cx="380.2" cy="879.8" r="10.5" fill="#000000"/>
<circle cx="437.4" cy="868.5" r="10.5" fill="#000000"/>
<circle cx="494.6" cy="876.3" r="10.5" fill="#000000"/>
<circle cx="551.8" cy="863.2" r="10.5" fill="#000000"/>
<circle cx="609.0" cy="858.0" r="10.5" fill="#000000"/>
<circle cx="666.2" cy="873.7" r="10.5" fill="#000000"/>
<circle cx="723.4" cy="860.6" r="10.5" fill="#000000"/>
<circle cx="780.6" cy="858.0" r="10.5" fill="#000000"/>
<circle cx="837.8" cy="861.5" r="10.5" fill="#000000"/>
<circle cx="895.0" cy="850.1" r="10.5" fill="#000000"/>
<circle cx="952.2" cy="833.5" r="10.5" fill="#000000"/>
<circle cx="1009.4" cy="835.2" r="10.5" fill="#000000"/>
<circle cx="1066.6" cy="830.0" r="10.5" fill="#000000"/>
</g>
<g id="panelC">
<text x="30.5" y="1528.5" font-size="79" stroke="#000" stroke-width="0.5" font-weight="bold">C</text>
<path d="M263.2,1452.6 V1988.0 H1067.2" fill="none" stroke="#000" stroke-width="5" stroke-linejoin="miter"/>
<path d="M250.7,1988.0 H263.2" stroke="#000" stroke-width="5"/>
<text x="240.2" y="1998.5" font-size="39" stroke="#000" stroke-width="0.5" font-weight="bold" text-anchor="end" textLength="21.0" lengthAdjust="spacingAndGlyphs">0</text>
<path d="M250.7,1881.4 H263.2" stroke="#000" stroke-width="5"/>
<text x="240.2" y="1891.9" font-size="39" stroke="#000" stroke-width="0.5" font-weight="bold" text-anchor="end" textLength="42.0" lengthAdjust="spacingAndGlyphs">20</text>
<path d="M250.7,1774.8 H263.2" stroke="#000" stroke-width="5"/>
<text x="240.2" y="1785.3" font-size="39" stroke="#000" stroke-width="0.5" font-weight="bold" text-anchor="end" textLength="42.0" lengthAdjust="spacingAndGlyphs">40</text>
<path d="M250.7,1668.3 H263.2" stroke="#000" stroke-width="5"/>
<text x="240.2" y="1678.7" font-size="39" stroke="#000" stroke-width="0.5" font-weight="bold" text-anchor="end" textLength="42.0" lengthAdjust="spacingAndGlyphs">60</text>
<path d="M250.7,1561.7 H263.2" stroke="#000" stroke-width="5"/>
<text x="240.2" y="1572.1" font-size="39" stroke="#000" stroke-width="0.5" font-weight="bold" text-anchor="end" textLength="42.0" lengthAdjust="spacingAndGlyphs">80</text>
<path d="M250.7,1455.1 H263.2" stroke="#000" stroke-width="5"/>
<text x="240.2" y="1465.6" font-size="39" stroke="#000" stroke-width="0.5" font-weight="bold" text-anchor="end" textLength="63.0" lengthAdjust="spacingAndGlyphs">100</text>
<path d="M263.2,1988.0 V2000.5" stroke="#000" stroke-width="5"/>
<text x="263.2" y="2046.0" font-size="39" stroke="#000" stroke-width="0.5" font-weight="bold" text-anchor="middle" textLength="21.0" lengthAdjust="spacingAndGlyphs">0</text>
<path d="M377.7,1988.0 V2000.5" stroke="#000" stroke-width="5"/>
<text x="377.7" y="2046.0" font-size="39" stroke="#000" stroke-width="0.5" font-weight="bold" text-anchor="middle" textLength="21.0" lengthAdjust="spacingAndGlyphs">2</text>
<path d="M492.2,1988.0 V2000.5" stroke="#000" stroke-width="5"/>
<text x="492.2" y="2046.0" font-size="39" stroke="#000" stroke-width="0.5" font-weight="bold" text-anchor="middle" textLength="21.0" lengthAdjust="spacingAndGlyphs">4</text>
<path d="M606.7,1988.0 V2000.5" stroke="#000" stroke-width="5"/>
<text x="606.7" y="2046.0" font-size="39" stroke="#000" stroke-width="0.5" font-weight="bold" text-anchor="middle" textLength="21.0" lengthAdjust="spacingAndGlyphs">6</text>
<path d="M721.2,1988.0 V2000.5" stroke="#000" stroke-width="5"/>
<text x="721.2" y="2046.0" font-size="39" stroke="#000" stroke-width="0.5" font-weight="bold" text-anchor="middle" textLength="21.0" lengthAdjust="spacingAndGlyphs">8</text>
<path d="M835.7,1988.0 V2000.5" stroke="#000" stroke-width="5"/>
<text x="835.7" y="2046.0" font-size="39" stroke="#000" stroke-width="0.5" font-weight="bold" text-anchor="middle" textLength="42.0" lengthAdjust="spacingAndGlyphs">10</text>
<path d="M950.2,1988.0 V2000.5" stroke="#000" stroke-width="5"/>
<text x="950.2" y="2046.0" font-size="39" stroke="#000" stroke-width="0.5" font-weight="bold" text-anchor="middle" textLength="42.0" lengthAdjust="spacingAndGlyphs">12</text>
<path d="M1064.7,1988.0 V2000.5" stroke="#000" stroke-width="5"/>
<text x="1064.7" y="2046.0" font-size="39" stroke="#000" stroke-width="0.5" font-weight="bold" text-anchor="middle" textLength="42.0" lengthAdjust="spacingAndGlyphs">14</text>
<text x="155.5" y="1716.0" font-size="57.5" stroke="#000" stroke-width="1.8" text-anchor="middle" textLength="443.0" lengthAdjust="spacingAndGlyphs" transform="rotate(-90 155.5 1716.0)" word-spacing="7">Survival rate (%)</text>
<text x="661.5" y="2101.0" font-size="38" stroke="#000" stroke-width="0.5" font-weight="bold" text-anchor="middle" textLength="405.0" lengthAdjust="spacingAndGlyphs">Days post-infection</text>
<path d="M664.0,1455.1 L664.0,1678.9 L721.2,1678.9 L721.2,1785.5 L778.5,1785.5 L778.5,1892.1 L1064.7,1892.1 " fill="none" stroke="#00bb1e" stroke-width="6.3" stroke-linejoin="miter"/>
<polygon points="664.0,1666.9 676.0,1678.9 664.0,1690.9 652.0,1678.9" fill="#00bb1e"/>
<polygon points="721.2,1773.5 733.2,1785.5 721.2,1797.5 709.2,1785.5" fill="#00bb1e"/>
<polygon points="778.5,1880.1 790.5,1892.1 778.5,1904.1 766.5,1892.1" fill="#00bb1e"/>
<polygon points="835.7,1880.1 847.7,1892.1 835.7,1904.1 823.7,1892.1" fill="#00bb1e"/>
<polygon points="893.0,1880.1 905.0,1892.1 893.0,1904.1 881.0,1892.1" fill="#00bb1e"/>
<polygon points="950.2,1880.1 962.2,1892.1 950.2,1904.1 938.2,1892.1" fill="#00bb1e"/>
<polygon points="1007.5,1880.1 1019.5,1892.1 1007.5,1904.1 995.5,1892.1" fill="#00bb1e"/>
<polygon points="1064.7,1880.1 1076.7,1892.1 1064.7,1904.1 1052.7,1892.1" fill="#00bb1e"/>
<path d="M606.7,1455.1 L606.7,1657.6 L721.2,1657.6 L721.2,1764.2 L778.5,1764.2 L778.5,1870.8 L1064.7,1870.8 " fill="none" stroke="#cc00e6" stroke-width="6" stroke-linejoin="miter"/>
<polygon points="606.7,1669.7 618.2,1646.1 595.2,1646.1" fill="#cc00e6"/>
<polygon points="664.0,1669.7 675.5,1646.1 652.5,1646.1" fill="#cc00e6"/>
<polygon points="721.2,1776.3 732.7,1752.7 709.7,1752.7" fill="#cc00e6"/>
<polygon points="778.5,1882.8 790.0,1859.3 767.0,1859.3" fill="#cc00e6"/>
<polygon points="835.7,1882.8 847.2,1859.3 824.2,1859.3" fill="#cc00e6"/>
<polygon points="893.0,1882.8 904.5,1859.3 881.5,1859.3" fill="#cc00e6"/>
<polygon points="950.2,1882.8 961.7,1859.3 938.7,1859.3" fill="#cc00e6"/>
<polygon points="1007.5,1882.8 1019.0,1859.3 996.0,1859.3" fill="#cc00e6"/>
<polygon points="1064.7,1882.8 1076.2,1859.3 1053.2,1859.3" fill="#cc00e6"/>
<path d="M664.0,1561.7 L721.2,1561.7 L721.2,1668.3 L778.5,1668.3 L778.5,1881.4 L1064.7,1881.4 " fill="none" stroke="#0000ff" stroke-width="7" stroke-linejoin="miter"/>
<polygon points="664.0,1549.6 675.5,1573.2 652.5,1573.2" fill="#0000ff"/>
<polygon points="721.2,1656.2 732.7,1679.8 709.7,1679.8" fill="#0000ff"/>
<polygon points="778.5,1869.3 790.0,1892.9 767.0,1892.9" fill="#0000ff"/>
<polygon points="835.7,1869.3 847.2,1892.9 824.2,1892.9" fill="#0000ff"/>
<polygon points="893.0,1869.3 904.5,1892.9 881.5,1892.9" fill="#0000ff"/>
<polygon points="950.2,1869.3 961.7,1892.9 938.7,1892.9" fill="#0000ff"/>
<polygon points="1007.5,1869.3 1019.0,1892.9 996.0,1892.9" fill="#0000ff"/>
<polygon points="1064.7,1869.3 1076.2,1892.9 1053.2,1892.9" fill="#0000ff"/>
<path d="M606.7,1455.1 L606.7,1561.7 L664.0,1561.7 L664.0,1774.8 L721.2,1774.8 L721.2,1988.0 L1064.7,1988.0 " fill="none" stroke="#ff0000" stroke-width="5.2" stroke-linejoin="miter"/>
<rect x="252.2" y="1444.1" width="22.0" height="22.0" fill="#ff0000"/>
<rect x="309.4" y="1444.1" width="22.0" height="22.0" fill="#ff0000"/>
<rect x="366.7" y="1444.1" width="22.0" height="22.0" fill="#ff0000"/>
<rect x="423.9" y="1444.1" width="22.0" height="22.0" fill="#ff0000"/>
<rect x="481.2" y="1444.1" width="22.0" height="22.0" fill="#ff0000"/>
<rect x="538.5" y="1444.1" width="22.0" height="22.0" fill="#ff0000"/>
<rect x="595.7" y="1550.7" width="22.0" height="22.0" fill="#ff0000"/>
<rect x="653.0" y="1763.8" width="22.0" height="22.0" fill="#ff0000"/>
<rect x="710.2" y="1977.0" width="22.0" height="22.0" fill="#ff0000"/>
<rect x="767.5" y="1977.0" width="22.0" height="22.0" fill="#ff0000"/>
<rect x="824.7" y="1977.0" width="22.0" height="22.0" fill="#ff0000"/>
<rect x="882.0" y="1977.0" width="22.0" height="22.0" fill="#ff0000"/>
<rect x="939.2" y="1977.0" width="22.0" height="22.0" fill="#ff0000"/>
<rect x="996.5" y="1977.0" width="22.0" height="22.0" fill="#ff0000"/>
<rect x="1053.7" y="1977.0" width="22.0" height="22.0" fill="#ff0000"/>
<path d="M263.2,1454.6 H1064.7" stroke="#4a4a4a" stroke-width="3.4"/>
<circle cx="263.2" cy="1453.9" r="11.8" fill="#000"/>
<circle cx="320.4" cy="1453.9" r="11.8" fill="#000"/>
<circle cx="377.7" cy="1453.9" r="11.8" fill="#000"/>
<circle cx="434.9" cy="1453.9" r="11.8" fill="#000"/>
<circle cx="492.2" cy="1453.9" r="11.8" fill="#000"/>
<circle cx="549.5" cy="1453.9" r="11.8" fill="#000"/>
<circle cx="606.7" cy="1453.9" r="11.8" fill="#000"/>
<circle cx="664.0" cy="1453.9" r="11.8" fill="#000"/>
<circle cx="721.2" cy="1453.9" r="11.8" fill="#000"/>
<circle cx="778.5" cy="1453.9" r="11.8" fill="#000"/>
<circle cx="835.7" cy="1453.9" r="11.8" fill="#000"/>
<circle cx="893.0" cy="1453.9" r="11.8" fill="#000"/>
<circle cx="950.2" cy="1453.9" r="11.8" fill="#000"/>
<circle cx="1007.5" cy="1453.9" r="11.8" fill="#000"/>
<circle cx="1064.7" cy="1453.9" r="11.8" fill="#000"/>
</g>
<text x="1208.0" y="1522.2" font-size="48" font-weight="bold" stroke="#000" stroke-width="0.2" textLength="500" lengthAdjust="spacingAndGlyphs">10<tspan font-size="33" font-weight="normal" stroke-width="1.3" dy="-15.8">3</tspan><tspan dy="15.8"> pfu virus infection</tspan></text>
<path d="M1192,1619.1 H1248.5" stroke="#000000" stroke-width="4.6"/>
<circle cx="1220.3" cy="1619.1" r="10.9" fill="#000000"/>
<text x="1278.0" y="1632.0" font-size="44" stroke="#1c1c1c" stroke-width="0.75" fill="#1c1c1c" word-spacing="-4">PBS</text>
<path d="M1192,1679.9 H1248.5" stroke="#ff0000" stroke-width="4.6"/>
<rect x="1208.9" y="1668.5" width="22.9" height="22.9" fill="#ff0000"/>
<text x="1278.0" y="1692.1" font-size="44" stroke="#1c1c1c" stroke-width="0.75" textLength="199.5" lengthAdjust="spacingAndGlyphs" fill="#1c1c1c" word-spacing="-4">RG pH1N1</text>
<path d="M1192,1756.1 H1248.5" stroke="#0000ff" stroke-width="4.6"/>
<polygon points="1220.3,1743.5 1232.3,1768.1 1208.3,1768.1" fill="#0000ff"/>
<text x="1278.0" y="1769.5" font-size="44" stroke="#1c1c1c" stroke-width="0.75" textLength="490.0" lengthAdjust="spacingAndGlyphs" fill="#1c1c1c" word-spacing="-4">RG pH1N1(I365T/S366N)</text>
<path d="M1192,1832.5 H1248.5" stroke="#cc00e6" stroke-width="4.6"/>
<polygon points="1220.3,1845.1 1232.3,1820.5 1208.3,1820.5" fill="#cc00e6"/>
<text x="1278.0" y="1845.8" font-size="44" stroke="#1c1c1c" stroke-width="0.75" textLength="496.5" lengthAdjust="spacingAndGlyphs" fill="#1c1c1c" word-spacing="-4">RG pH1N1(I365E/S366D)</text>
<path d="M1192,1908.8 H1248.5" stroke="#00bb1e" stroke-width="4.6"/>
<polygon points="1220.3,1896.3 1232.8,1908.8 1220.3,1921.3 1207.8,1908.8" fill="#00bb1e"/>
<text x="1278.0" y="1921.6" font-size="44" stroke="#1c1c1c" stroke-width="0.75" textLength="490.0" lengthAdjust="spacingAndGlyphs" fill="#1c1c1c" word-spacing="-4">RG pH1N1(I365T/S366A)</text>
<g id="panelD">
<text x="27.0" y="2214.0" font-size="81" stroke="#000" stroke-width="0.5" font-weight="bold">D</text>
<path d="M278.4,2157.8 V2702.7 H1095.7" fill="none" stroke="#000" stroke-width="5" stroke-linejoin="miter"/>
<path d="M265.9,2702.7 H278.4" stroke="#000" stroke-width="5"/>
<text x="255.9" y="2713.3" font-size="39.5" stroke="#000" stroke-width="0.5" font-weight="bold" text-anchor="end" textLength="43.0" lengthAdjust="spacingAndGlyphs">60</text>
<path d="M265.9,2612.3 H278.4" stroke="#000" stroke-width="5"/>
<text x="255.9" y="2622.9" font-size="39.5" stroke="#000" stroke-width="0.5" font-weight="bold" text-anchor="end" textLength="43.0" lengthAdjust="spacingAndGlyphs">70</text>
<path d="M265.9,2521.9 H278.4" stroke="#000" stroke-width="5"/>
<text x="255.9" y="2532.5" font-size="39.5" stroke="#000" stroke-width="0.5" font-weight="bold" text-anchor="end" textLength="43.0" lengthAdjust="spacingAndGlyphs">80</text>
<path d="M265.9,2431.5 H278.4" stroke="#000" stroke-width="5"/>
<text x="255.9" y="2442.1" font-size="39.5" stroke="#000" stroke-width="0.5" font-weight="bold" text-anchor="end" textLength="43.0" lengthAdjust="spacingAndGlyphs">90</text>
<path d="M265.9,2341.1 H278.4" stroke="#000" stroke-width="5"/>
<text x="255.9" y="2351.7" font-size="39.5" stroke="#000" stroke-width="0.5" font-weight="bold" text-anchor="end" textLength="64.5" lengthAdjust="spacingAndGlyphs">100</text>
<path d="M265.9,2250.7 H278.4" stroke="#000" stroke-width="5"/>
<text x="255.9" y="2261.3" font-size="39.5" stroke="#000" stroke-width="0.5" font-weight="bold" text-anchor="end" textLength="64.5" lengthAdjust="spacingAndGlyphs">110</text>
<path d="M265.9,2160.3 H278.4" stroke="#000" stroke-width="5"/>
<text x="255.9" y="2170.9" font-size="39.5" stroke="#000" stroke-width="0.5" font-weight="bold" text-anchor="end" textLength="64.5" lengthAdjust="spacingAndGlyphs">120</text>
<path d="M278.4,2702.7 V2715.2" stroke="#000" stroke-width="5"/>
<text x="278.4" y="2761.0" font-size="39.5" stroke="#000" stroke-width="0.5" font-weight="bold" text-anchor="middle" textLength="21.5" lengthAdjust="spacingAndGlyphs">0</text>
<path d="M394.8,2702.7 V2715.2" stroke="#000" stroke-width="5"/>
<text x="394.8" y="2761.0" font-size="39.5" stroke="#000" stroke-width="0.5" font-weight="bold" text-anchor="middle" textLength="21.5" lengthAdjust="spacingAndGlyphs">2</text>
<path d="M511.2,2702.7 V2715.2" stroke="#000" stroke-width="5"/>
<text x="511.2" y="2761.0" font-size="39.5" stroke="#000" stroke-width="0.5" font-weight="bold" text-anchor="middle" textLength="21.5" lengthAdjust="spacingAndGlyphs">4</text>
<path d="M627.6,2702.7 V2715.2" stroke="#000" stroke-width="5"/>
<text x="627.6" y="2761.0" font-size="39.5" stroke="#000" stroke-width="0.5" font-weight="bold" text-anchor="middle" textLength="21.5" lengthAdjust="spacingAndGlyphs">6</text>
<path d="M744.0,2702.7 V2715.2" stroke="#000" stroke-width="5"/>
<text x="744.0" y="2761.0" font-size="39.5" stroke="#000" stroke-width="0.5" font-weight="bold" text-anchor="middle" textLength="21.5" lengthAdjust="spacingAndGlyphs">8</text>
<path d="M860.4,2702.7 V2715.2" stroke="#000" stroke-width="5"/>
<text x="860.4" y="2761.0" font-size="39.5" stroke="#000" stroke-width="0.5" font-weight="bold" text-anchor="middle" textLength="43.0" lengthAdjust="spacingAndGlyphs">10</text>
<path d="M976.8,2702.7 V2715.2" stroke="#000" stroke-width="5"/>
<text x="976.8" y="2761.0" font-size="39.5" stroke="#000" stroke-width="0.5" font-weight="bold" text-anchor="middle" textLength="43.0" lengthAdjust="spacingAndGlyphs">12</text>
<path d="M1093.2,2702.7 V2715.2" stroke="#000" stroke-width="5"/>
<text x="1093.2" y="2761.0" font-size="39.5" stroke="#000" stroke-width="0.5" font-weight="bold" text-anchor="middle" textLength="43.0" lengthAdjust="spacingAndGlyphs">14</text>
<text x="162.5" y="2428.0" font-size="59.5" stroke="#000" stroke-width="1.8" text-anchor="middle" textLength="440.0" lengthAdjust="spacingAndGlyphs" transform="rotate(-90 162.5 2428.0)" word-spacing="7">Body weight (%)</text>
<text x="684.0" y="2819.0" font-size="38.5" stroke="#000" stroke-width="0.5" font-weight="bold" text-anchor="middle" textLength="410.0" lengthAdjust="spacingAndGlyphs">Days post-infection</text>
<path d="M336.6,2338.4 V2389.0" stroke="#00bb1e" stroke-width="8.5"/>
<path d="M325.6,2338.4 H347.6 M325.6,2389.0 H347.6" stroke="#00bb1e" stroke-width="8.5"/>
<path d="M394.8,2339.3 V2366.4" stroke="#00bb1e" stroke-width="8.5"/>
<path d="M383.8,2339.3 H405.8 M383.8,2366.4 H405.8" stroke="#00bb1e" stroke-width="8.5"/>
<path d="M453.0,2365.5 V2425.2" stroke="#00bb1e" stroke-width="8.5"/>
<path d="M442.0,2365.5 H464.0 M442.0,2425.2 H464.0" stroke="#00bb1e" stroke-width="8.5"/>
<path d="M511.2,2399.0 V2458.6" stroke="#00bb1e" stroke-width="8.5"/>
<path d="M500.2,2399.0 H522.2 M500.2,2458.6 H522.2" stroke="#00bb1e" stroke-width="8.5"/>
<path d="M569.4,2397.1 V2496.6" stroke="#00bb1e" stroke-width="8.5"/>
<path d="M558.4,2397.1 H580.4 M558.4,2496.6 H580.4" stroke="#00bb1e" stroke-width="8.5"/>
<path d="M627.6,2460.4 V2541.8" stroke="#00bb1e" stroke-width="8.5"/>
<path d="M616.6,2460.4 H638.6 M616.6,2541.8 H638.6" stroke="#00bb1e" stroke-width="8.5"/>
<path d="M685.8,2489.4 V2549.0" stroke="#00bb1e" stroke-width="8.5"/>
<path d="M674.8,2489.4 H696.8 M674.8,2549.0 H696.8" stroke="#00bb1e" stroke-width="8.5"/>
<polyline points="278.4,2342.9 336.6,2363.7 394.8,2352.9 453.0,2395.3 511.2,2428.8 569.4,2446.9 627.6,2501.1 685.8,2519.2 744.0,2558.1 802.2,2556.3 860.4,2521.9 918.6,2496.6 976.8,2434.7 1035.0,2404.4 1093.2,2339.3" fill="none" stroke="#00bb1e" stroke-width="7" stroke-linejoin="round"/>
<polygon points="278.4,2330.9 290.4,2342.9 278.4,2354.9 266.4,2342.9" fill="#00bb1e"/>
<polygon points="336.6,2351.7 348.6,2363.7 336.6,2375.7 324.6,2363.7" fill="#00bb1e"/>
<polygon points="394.8,2340.9 406.8,2352.9 394.8,2364.9 382.8,2352.9" fill="#00bb1e"/>
<polygon points="453.0,2383.3 465.0,2395.3 453.0,2407.3 441.0,2395.3" fill="#00bb1e"/>
<polygon points="511.2,2416.8 523.2,2428.8 511.2,2440.8 499.2,2428.8" fill="#00bb1e"/>
<polygon points="569.4,2434.9 581.4,2446.9 569.4,2458.9 557.4,2446.9" fill="#00bb1e"/>
<polygon points="627.6,2489.1 639.6,2501.1 627.6,2513.1 615.6,2501.1" fill="#00bb1e"/>
<polygon points="685.8,2507.2 697.8,2519.2 685.8,2531.2 673.8,2519.2" fill="#00bb1e"/>
<polygon points="744.0,2546.1 756.0,2558.1 744.0,2570.1 732.0,2558.1" fill="#00bb1e"/>
<polygon points="802.2,2544.3 814.2,2556.3 802.2,2568.3 790.2,2556.3" fill="#00bb1e"/>
<polygon points="860.4,2509.9 872.4,2521.9 860.4,2533.9 848.4,2521.9" fill="#00bb1e"/>
<polygon points="918.6,2484.6 930.6,2496.6 918.6,2508.6 906.6,2496.6" fill="#00bb1e"/>
<polygon points="976.8,2422.7 988.8,2434.7 976.8,2446.7 964.8,2434.7" fill="#00bb1e"/>
<polygon points="1035.0,2392.4 1047.0,2404.4 1035.0,2416.4 1023.0,2404.4" fill="#00bb1e"/>
<polygon points="1093.2,2327.3 1105.2,2339.3 1093.2,2351.3 1081.2,2339.3" fill="#00bb1e"/>
<path d="M336.6,2338.4 V2365.5" stroke="#cc00e6" stroke-width="8.5"/>
<path d="M325.6,2338.4 H347.6 M325.6,2365.5 H347.6" stroke="#cc00e6" stroke-width="8.5"/>
<path d="M394.8,2318.5 V2378.2" stroke="#cc00e6" stroke-width="8.5"/>
<path d="M383.8,2318.5 H405.8 M383.8,2378.2 H405.8" stroke="#cc00e6" stroke-width="8.5"/>
<path d="M453.0,2368.2 V2431.5" stroke="#cc00e6" stroke-width="8.5"/>
<path d="M442.0,2368.2 H464.0 M442.0,2431.5 H464.0" stroke="#cc00e6" stroke-width="8.5"/>
<path d="M511.2,2373.6 V2485.7" stroke="#cc00e6" stroke-width="8.5"/>
<path d="M500.2,2373.6 H522.2 M500.2,2485.7 H522.2" stroke="#cc00e6" stroke-width="8.5"/>
<path d="M569.4,2375.5 V2523.7" stroke="#cc00e6" stroke-width="8.5"/>
<path d="M558.4,2375.5 H580.4 M558.4,2523.7 H580.4" stroke="#cc00e6" stroke-width="8.5"/>
<path d="M627.6,2380.0 V2517.4" stroke="#cc00e6" stroke-width="8.5"/>
<path d="M616.6,2380.0 H638.6 M616.6,2517.4 H638.6" stroke="#cc00e6" stroke-width="8.5"/>
<path d="M685.8,2489.4 V2507.4" stroke="#cc00e6" stroke-width="8.5"/>
<path d="M674.8,2489.4 H696.8 M674.8,2507.4 H696.8" stroke="#cc00e6" stroke-width="8.5"/>
<path d="M744.0,2469.5 V2550.8" stroke="#cc00e6" stroke-width="8.5"/>
<path d="M733.0,2469.5 H755.0 M733.0,2550.8 H755.0" stroke="#cc00e6" stroke-width="8.5"/>
<polyline points="278.4,2342.9 336.6,2351.9 394.8,2348.3 453.0,2399.9 511.2,2429.7 569.4,2449.6 627.6,2448.7 685.8,2498.4 744.0,2510.1 802.2,2487.5 860.4,2411.6 918.6,2377.3 976.8,2336.6 1035.0,2330.3 1093.2,2300.4" fill="none" stroke="#cc00e6" stroke-width="7" stroke-linejoin="round"/>
<polygon points="278.4,2355.0 289.9,2331.4 266.9,2331.4" fill="#cc00e6"/>
<polygon points="336.6,2364.0 348.1,2340.4 325.1,2340.4" fill="#cc00e6"/>
<polygon points="394.8,2360.4 406.3,2336.8 383.3,2336.8" fill="#cc00e6"/>
<polygon points="453.0,2411.9 464.5,2388.4 441.5,2388.4" fill="#cc00e6"/>
<polygon points="511.2,2441.8 522.7,2418.2 499.7,2418.2" fill="#cc00e6"/>
<polygon points="569.4,2461.7 580.9,2438.1 557.9,2438.1" fill="#cc00e6"/>
<polygon points="627.6,2460.8 639.1,2437.2 616.1,2437.2" fill="#cc00e6"/>
<polygon points="685.8,2510.5 697.3,2486.9 674.3,2486.9" fill="#cc00e6"/>
<polygon points="744.0,2522.2 755.5,2498.6 732.5,2498.6" fill="#cc00e6"/>
<polygon points="802.2,2499.6 813.7,2476.0 790.7,2476.0" fill="#cc00e6"/>
<polygon points="860.4,2423.7 871.9,2400.1 848.9,2400.1" fill="#cc00e6"/>
<polygon points="918.6,2389.3 930.1,2365.8 907.1,2365.8" fill="#cc00e6"/>
<polygon points="976.8,2348.7 988.3,2325.1 965.3,2325.1" fill="#cc00e6"/>
<polygon points="1035.0,2342.3 1046.5,2318.8 1023.5,2318.8" fill="#cc00e6"/>
<polygon points="1093.2,2312.5 1104.7,2288.9 1081.7,2288.9" fill="#cc00e6"/>
<path d="M336.6,2334.8 V2361.9" stroke="#0000ff" stroke-width="8.5"/>
<path d="M325.6,2334.8 H347.6 M325.6,2361.9 H347.6" stroke="#0000ff" stroke-width="8.5"/>
<path d="M394.8,2311.3 V2389.0" stroke="#0000ff" stroke-width="8.5"/>
<path d="M383.8,2311.3 H405.8 M383.8,2389.0 H405.8" stroke="#0000ff" stroke-width="8.5"/>
<path d="M453.0,2354.7 V2436.0" stroke="#0000ff" stroke-width="8.5"/>
<path d="M442.0,2354.7 H464.0 M442.0,2436.0 H464.0" stroke="#0000ff" stroke-width="8.5"/>
<path d="M511.2,2363.7 V2459.5" stroke="#0000ff" stroke-width="8.5"/>
<path d="M500.2,2363.7 H522.2 M500.2,2459.5 H522.2" stroke="#0000ff" stroke-width="8.5"/>
<path d="M569.4,2371.8 V2509.2" stroke="#0000ff" stroke-width="8.5"/>
<path d="M558.4,2371.8 H580.4 M558.4,2509.2 H580.4" stroke="#0000ff" stroke-width="8.5"/>
<path d="M627.6,2409.8 V2511.1" stroke="#0000ff" stroke-width="8.5"/>
<path d="M616.6,2409.8 H638.6 M616.6,2511.1 H638.6" stroke="#0000ff" stroke-width="8.5"/>
<path d="M685.8,2441.4 V2560.8" stroke="#0000ff" stroke-width="8.5"/>
<path d="M674.8,2441.4 H696.8 M674.8,2560.8 H696.8" stroke="#0000ff" stroke-width="8.5"/>
<path d="M744.0,2430.6 V2593.3" stroke="#0000ff" stroke-width="8.5"/>
<path d="M733.0,2430.6 H755.0 M733.0,2593.3 H755.0" stroke="#0000ff" stroke-width="8.5"/>
<polyline points="278.4,2342.9 336.6,2348.3 394.8,2350.1 453.0,2395.3 511.2,2411.6 569.4,2440.5 627.6,2460.4 685.8,2501.1 744.0,2512.0 802.2,2383.6 860.4,2350.1 918.6,2306.7 976.8,2279.6 1035.0,2294.1 1093.2,2264.3" fill="none" stroke="#0000ff" stroke-width="7" stroke-linejoin="round"/>
<polygon points="278.4,2330.8 289.9,2354.4 266.9,2354.4" fill="#0000ff"/>
<polygon points="336.6,2336.3 348.1,2359.8 325.1,2359.8" fill="#0000ff"/>
<polygon points="394.8,2338.1 406.3,2361.6 383.3,2361.6" fill="#0000ff"/>
<polygon points="453.0,2383.3 464.5,2406.8 441.5,2406.8" fill="#0000ff"/>
<polygon points="511.2,2399.5 522.7,2423.1 499.7,2423.1" fill="#0000ff"/>
<polygon points="569.4,2428.5 580.9,2452.0 557.9,2452.0" fill="#0000ff"/>
<polygon points="627.6,2448.4 639.1,2471.9 616.1,2471.9" fill="#0000ff"/>
<polygon points="685.8,2489.0 697.3,2512.6 674.3,2512.6" fill="#0000ff"/>
<polygon points="744.0,2499.9 755.5,2523.5 732.5,2523.5" fill="#0000ff"/>
<polygon points="802.2,2371.5 813.7,2395.1 790.7,2395.1" fill="#0000ff"/>
<polygon points="860.4,2338.1 871.9,2361.6 848.9,2361.6" fill="#0000ff"/>
<polygon points="918.6,2294.7 930.1,2318.2 907.1,2318.2" fill="#0000ff"/>
<polygon points="976.8,2267.6 988.3,2291.1 965.3,2291.1" fill="#0000ff"/>
<polygon points="1035.0,2282.0 1046.5,2305.6 1023.5,2305.6" fill="#0000ff"/>
<polygon points="1093.2,2252.2 1104.7,2275.8 1081.7,2275.8" fill="#0000ff"/>
<path d="M336.6,2307.7 V2356.5" stroke="#ff0000" stroke-width="8.5"/>
<path d="M325.6,2307.7 H347.6 M325.6,2356.5 H347.6" stroke="#ff0000" stroke-width="8.5"/>
<path d="M394.8,2328.4 V2368.2" stroke="#ff0000" stroke-width="8.5"/>
<path d="M383.8,2328.4 H405.8 M383.8,2368.2 H405.8" stroke="#ff0000" stroke-width="8.5"/>
<path d="M453.0,2376.4 V2423.4" stroke="#ff0000" stroke-width="8.5"/>
<path d="M442.0,2376.4 H464.0 M442.0,2423.4 H464.0" stroke="#ff0000" stroke-width="8.5"/>
<path d="M511.2,2423.4 V2455.9" stroke="#ff0000" stroke-width="8.5"/>
<path d="M500.2,2423.4 H522.2 M500.2,2455.9 H522.2" stroke="#ff0000" stroke-width="8.5"/>
<path d="M569.4,2464.9 V2501.1" stroke="#ff0000" stroke-width="8.5"/>
<path d="M558.4,2464.9 H580.4 M558.4,2501.1 H580.4" stroke="#ff0000" stroke-width="8.5"/>
<path d="M627.6,2519.2 V2537.3" stroke="#ff0000" stroke-width="8.5"/>
<path d="M616.6,2519.2 H638.6 M616.6,2537.3 H638.6" stroke="#ff0000" stroke-width="8.5"/>
<path d="M685.8,2427.9 V2583.4" stroke="#ff0000" stroke-width="8.5"/>
<path d="M674.8,2427.9 H696.8 M674.8,2583.4 H696.8" stroke="#ff0000" stroke-width="8.5"/>
<polyline points="278.4,2344.7 336.6,2332.1 394.8,2348.3 453.0,2399.9 511.2,2439.6 569.4,2483.0 627.6,2528.2 685.8,2505.6" fill="none" stroke="#ff0000" stroke-width="7" stroke-linejoin="round"/>
<rect x="267.4" y="2333.7" width="22.0" height="22.0" fill="#ff0000"/>
<rect x="325.6" y="2321.1" width="22.0" height="22.0" fill="#ff0000"/>
<rect x="383.8" y="2337.3" width="22.0" height="22.0" fill="#ff0000"/>
<rect x="442.0" y="2388.9" width="22.0" height="22.0" fill="#ff0000"/>
<rect x="500.2" y="2428.6" width="22.0" height="22.0" fill="#ff0000"/>
<rect x="558.4" y="2472.0" width="22.0" height="22.0" fill="#ff0000"/>
<rect x="616.6" y="2517.2" width="22.0" height="22.0" fill="#ff0000"/>
<rect x="674.8" y="2494.6" width="22.0" height="22.0" fill="#ff0000"/>
<path d="M336.6,2300.4 V2343.8" stroke="#000000" stroke-width="7"/>
<path d="M325.8,2300.4 H347.3 M325.8,2343.8 H347.3" stroke="#000000" stroke-width="8"/>
<path d="M394.8,2288.7 V2333.9" stroke="#000000" stroke-width="7"/>
<path d="M384.0,2288.7 H405.5 M384.0,2333.9 H405.5" stroke="#000000" stroke-width="8"/>
<path d="M453.0,2276.9 V2320.3" stroke="#000000" stroke-width="7"/>
<path d="M442.2,2276.9 H463.8 M442.2,2320.3 H463.8" stroke="#000000" stroke-width="8"/>
<path d="M511.2,2289.6 V2323.9" stroke="#000000" stroke-width="7"/>
<path d="M500.4,2289.6 H522.0 M500.4,2323.9 H522.0" stroke="#000000" stroke-width="8"/>
<path d="M569.4,2278.7 V2307.7" stroke="#000000" stroke-width="7"/>
<path d="M558.6,2278.7 H580.1 M558.6,2307.7 H580.1" stroke="#000000" stroke-width="8"/>
<path d="M627.6,2267.9 V2305.8" stroke="#000000" stroke-width="7"/>
<path d="M616.9,2267.9 H638.4 M616.9,2305.8 H638.4" stroke="#000000" stroke-width="8"/>
<path d="M685.8,2284.1 V2325.7" stroke="#000000" stroke-width="7"/>
<path d="M675.0,2284.1 H696.5 M675.0,2325.7 H696.5" stroke="#000000" stroke-width="8"/>
<path d="M744.0,2271.5 V2311.3" stroke="#000000" stroke-width="7"/>
<path d="M733.2,2271.5 H754.8 M733.2,2311.3 H754.8" stroke="#000000" stroke-width="8"/>
<path d="M860.4,2279.6 V2303.1" stroke="#000000" stroke-width="7"/>
<path d="M849.6,2279.6 H871.1 M849.6,2303.1 H871.1" stroke="#000000" stroke-width="8"/>
<path d="M918.6,2267.9 V2291.4" stroke="#000000" stroke-width="7"/>
<path d="M907.9,2267.9 H929.4 M907.9,2291.4 H929.4" stroke="#000000" stroke-width="8"/>
<path d="M976.8,2248.9 V2276.0" stroke="#000000" stroke-width="7"/>
<path d="M966.1,2248.9 H987.6 M966.1,2276.0 H987.6" stroke="#000000" stroke-width="8"/>
<path d="M1035.0,2246.2 V2282.3" stroke="#000000" stroke-width="7"/>
<path d="M1024.2,2246.2 H1045.8 M1024.2,2282.3 H1045.8" stroke="#000000" stroke-width="8"/>
<path d="M1093.2,2242.6 V2273.3" stroke="#000000" stroke-width="7"/>
<path d="M1082.5,2242.6 H1104.0 M1082.5,2273.3 H1104.0" stroke="#000000" stroke-width="8"/>
<polyline points="278.4,2341.1 336.6,2322.1 394.8,2311.3 453.0,2298.6 511.2,2306.7 569.4,2293.2 627.6,2286.9 685.8,2304.9 744.0,2291.4 802.2,2287.8 860.4,2291.4 918.6,2279.6 976.8,2262.5 1035.0,2264.3 1093.2,2257.9" fill="none" stroke="#000000" stroke-width="5.5" stroke-linejoin="round"/>
<circle cx="278.4" cy="2341.1" r="10.5" fill="#000000"/>
<circle cx="336.6" cy="2322.1" r="10.5" fill="#000000"/>
<circle cx="394.8" cy="2311.3" r="10.5" fill="#000000"/>
<circle cx="453.0" cy="2298.6" r="10.5" fill="#000000"/>
<circle cx="511.2" cy="2306.7" r="10.5" fill="#000000"/>
<circle cx="569.4" cy="2293.2" r="10.5" fill="#000000"/>
<circle cx="627.6" cy="2286.9" r="10.5" fill="#000000"/>
<circle cx="685.8" cy="2304.9" r="10.5" fill="#000000"/>
<circle cx="744.0" cy="2291.4" r="10.5" fill="#000000"/>
<circle cx="802.2" cy="2287.8" r="10.5" fill="#000000"/>
<circle cx="860.4" cy="2291.4" r="10.5" fill="#000000"/>
<circle cx="918.6" cy="2279.6" r="10.5" fill="#000000"/>
<circle cx="976.8" cy="2262.5" r="10.5" fill="#000000"/>
<circle cx="1035.0" cy="2264.3" r="10.5" fill="#000000"/>
<circle cx="1093.2" cy="2257.9" r="10.5" fill="#000000"/>
</g>
</g></svg>
</body></html>
